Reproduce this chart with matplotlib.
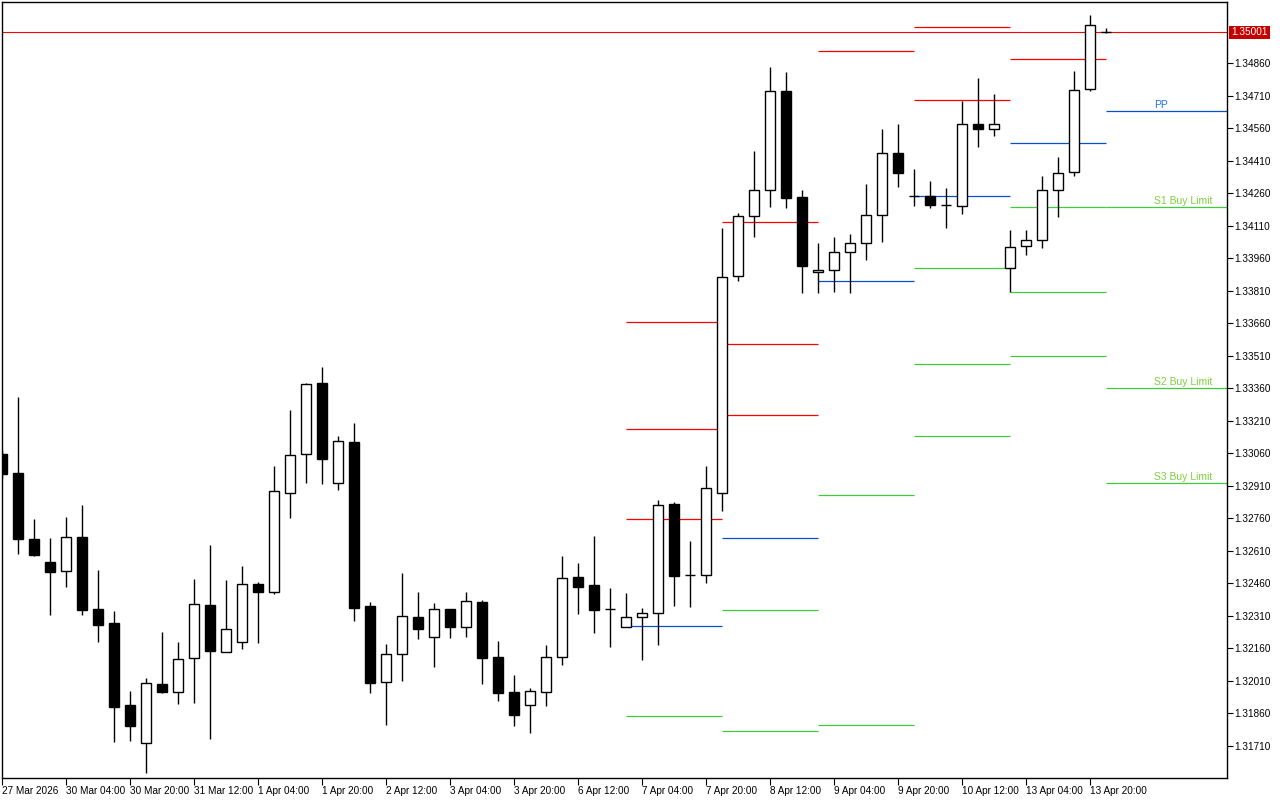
import matplotlib
matplotlib.use("Agg")
import matplotlib.pyplot as plt

plt.rcParams['font.family'] = ['Liberation Sans', 'DejaVu Sans']

# H4 candles, 27 Mar 2026 .. 14 Apr 2026
opens = [1.33055, 1.32968, 1.32663, 1.32557, 1.32515, 1.32672, 1.32340, 1.32275, 1.31897, 1.31722,
         1.31994, 1.31957, 1.32114, 1.32359, 1.32142, 1.32188, 1.32455, 1.32419, 1.32875, 1.33055,
         1.33383, 1.32922, 1.33111, 1.32354, 1.32003, 1.32132, 1.32303, 1.32211, 1.32340, 1.32257,
         1.32372, 1.32119, 1.31957, 1.31897, 1.31957, 1.32119, 1.32488, 1.32451, 1.32340, 1.32257,
         1.32303, 1.32322, 1.32825, 1.32497, 1.32497, 1.32875, 1.33877, 1.34154, 1.34274, 1.34731,
         1.34242, 1.33895, 1.33905, 1.33988, 1.34029, 1.34159, 1.34445, 1.34246, 1.34246, 1.34205,
         1.34200, 1.34579, 1.34555, 1.33914, 1.34015, 1.34043, 1.34274, 1.34357, 1.34740, 1.35005]
highs = [1.33074, 1.33319, 1.32755, 1.32668, 1.32765, 1.32820, 1.32520, 1.32331, 1.31962, 1.32022,
         1.32234, 1.32188, 1.32479, 1.32635, 1.32474, 1.32539, 1.32465, 1.33000, 1.33259, 1.33383,
         1.33457, 1.33139, 1.33199, 1.32372, 1.32179, 1.32506, 1.32419, 1.32368, 1.32340, 1.32419,
         1.32382, 1.32192, 1.32035, 1.31975, 1.32174, 1.32585, 1.32552, 1.32677, 1.32437, 1.32414,
         1.32345, 1.32843, 1.32834, 1.32654, 1.33000, 1.34099, 1.34168, 1.34454, 1.34842, 1.34819,
         1.34274, 1.34029, 1.34057, 1.34071, 1.34302, 1.34555, 1.34579, 1.34371, 1.34315, 1.34283,
         1.34685, 1.34791, 1.34717, 1.34089, 1.34089, 1.34339, 1.34426, 1.34823, 1.35082, 1.35022]
lows = [1.32945, 1.32594, 1.32585, 1.32312, 1.32442, 1.32312, 1.32188, 1.31726, 1.31731, 1.31583,
        1.31952, 1.31902, 1.31906, 1.31740, 1.32142, 1.32155, 1.32183, 1.32409, 1.32760, 1.32922,
        1.32917, 1.32889, 1.32285, 1.31952, 1.31805, 1.32008, 1.32202, 1.32072, 1.32206, 1.32211,
        1.31994, 1.31915, 1.31800, 1.31768, 1.31892, 1.32082, 1.32317, 1.32229, 1.32165, 1.32257,
        1.32105, 1.32174, 1.32354, 1.32349, 1.32460, 1.32792, 1.33854, 1.34057, 1.34195, 1.34191,
        1.33799, 1.33799, 1.33803, 1.33799, 1.33951, 1.34034, 1.34288, 1.34200, 1.34191, 1.34099,
        1.34163, 1.34472, 1.34523, 1.33803, 1.33974, 1.34006, 1.34149, 1.34339, 1.34731, 1.35000]
closes = [1.32963, 1.32663, 1.32589, 1.32511, 1.32672, 1.32335, 1.32266, 1.31888, 1.31800, 1.31999,
          1.31957, 1.32109, 1.32363, 1.32146, 1.32248, 1.32455, 1.32419, 1.32885, 1.33051, 1.33379,
          1.33032, 1.33115, 1.32345, 1.31999, 1.32132, 1.32308, 1.32248, 1.32340, 1.32257, 1.32377,
          1.32114, 1.31952, 1.31851, 1.31962, 1.32119, 1.32483, 1.32442, 1.32335, 1.32339, 1.32303,
          1.32322, 1.32820, 1.32492, 1.32497, 1.32899, 1.33872, 1.34154, 1.34274, 1.34731, 1.34237,
          1.33923, 1.33905, 1.33988, 1.34029, 1.34159, 1.34445, 1.34352, 1.34246, 1.34205, 1.34205,
          1.34579, 1.34555, 1.34579, 1.34011, 1.34043, 1.34274, 1.34352, 1.34735, 1.35035, 1.35001]

bid = 1.35001

# daily pivot levels (first bar index of each day), None = off chart
pivot_start = [39, 45, 51, 57, 63, 69]
r3 = [1.33665, 1.34126, None, None, None, None]
r2 = [1.33171, 1.33563, None, 1.35026, None, None]
r1 = [1.32755, 1.33235, 1.34915, 1.34689, 1.34879, None]
pp = [1.32262, 1.32668, 1.33854, 1.34246, 1.34491, 1.34639]
s1 = [1.31846, 1.32335, 1.32866, 1.33914, 1.34195, 1.34195]
s2 = [None, 1.31777, 1.31805, 1.33471, 1.33803, 1.33360]
s3 = [None, None, None, 1.33139, 1.33508, 1.32922]
level_names = ["PP", "S1 Buy Limit", "S2 Buy Limit", "S3 Buy Limit"]

price_ticks = [1.31710, 1.31860, 1.32010, 1.32160, 1.32310, 1.32460, 1.32610, 1.32760,
               1.32910, 1.33060, 1.33210, 1.33360, 1.33510, 1.33660, 1.33810, 1.33960,
               1.34110, 1.34260, 1.34410, 1.34560, 1.34710, 1.34860]
time_ticks = [0, 4, 8, 12, 16, 20, 24, 28, 32, 36, 40, 44, 48, 52, 56, 60, 64, 68]
time_labels = ["27 Mar 2026", "30 Mar 04:00", "30 Mar 20:00", "31 Mar 12:00", "1 Apr 04:00",
               "1 Apr 20:00", "2 Apr 12:00", "3 Apr 04:00", "3 Apr 20:00", "6 Apr 12:00",
               "7 Apr 04:00", "7 Apr 20:00", "8 Apr 12:00", "9 Apr 04:00", "9 Apr 20:00",
               "10 Apr 12:00", "13 Apr 04:00", "13 Apr 20:00"]

RED = '#ff0000'
BLUE = '#0a4fd0'
GREEN = '#3ccc3c'
LABEL_GREEN = '#7ed13c'

fig = plt.figure(figsize=(12.8, 8), dpi=100)
ax = fig.add_axes([2 / 1280, 22 / 800, 1225 / 1280, 776 / 800])

x = list(range(len(opens)))

# pivot lines
right_end = 76.5625
for d, start in enumerate(pivot_start):
    end = start + 6 if d < len(pivot_start) - 1 else right_end
    for levels, col in [(r3, RED), (r2, RED), (r1, RED), (pp, BLUE), (s1, GREEN), (s2, GREEN), (s3, GREEN)]:
        if levels[d] is not None:
            ax.hlines(levels[d], start, end, colors=col, lw=0.9, zorder=1)

# labels of current day
for name, lv, col in zip(level_names, [pp[-1], s1[-1], s2[-1], s3[-1]],
                         ['#1f6fe8', LABEL_GREEN, LABEL_GREEN, LABEL_GREEN]):
    ax.text(72.0, lv + 0.00006, name, color=col, fontsize=7.5, ha='left', va='bottom', zorder=3)

# bid line
ax.axhline(bid, color=RED, lw=0.8, zorder=2)

# candles
for i in x:
    o, h, l, c = opens[i], highs[i], lows[i], closes[i]
    ax.vlines(i, l, h, colors='black', lw=1.0, zorder=3)
    face = 'white' if c >= o else 'black'
    ax.bar(i, abs(c - o), bottom=min(o, c), width=0.62, color=face,
           edgecolor='black', linewidth=1.0, zorder=4)

ax.set_xlim(0, right_end)
ax.set_ylim(1.31560, 1.351416)

ax.yaxis.tick_right()
ax.set_yticks(price_ticks)
ax.set_yticklabels(['%.5f' % p for p in price_ticks])
ax.tick_params(axis='y', direction='out', length=4, width=0.8, labelsize=7.2, pad=1.5)

ax.set_xticks(time_ticks)
ax.set_xticklabels(time_labels, ha='left')
ax.tick_params(axis='x', direction='out', length=5, width=0.8, labelsize=7.2, pad=1)

for sp in ax.spines.values():
    sp.set_color('black')
    sp.set_linewidth(1.0)

# current price tag on the scale
ax.text(1.0035, bid, '%.5f' % bid, transform=ax.get_yaxis_transform(), ha='left', va='center',
        color='white', fontsize=7.2, clip_on=False, zorder=6,
        bbox=dict(boxstyle='square,pad=0.18', fc='#c40000', ec='none'))

fig.savefig('out.png', dpi=100, facecolor='white')
